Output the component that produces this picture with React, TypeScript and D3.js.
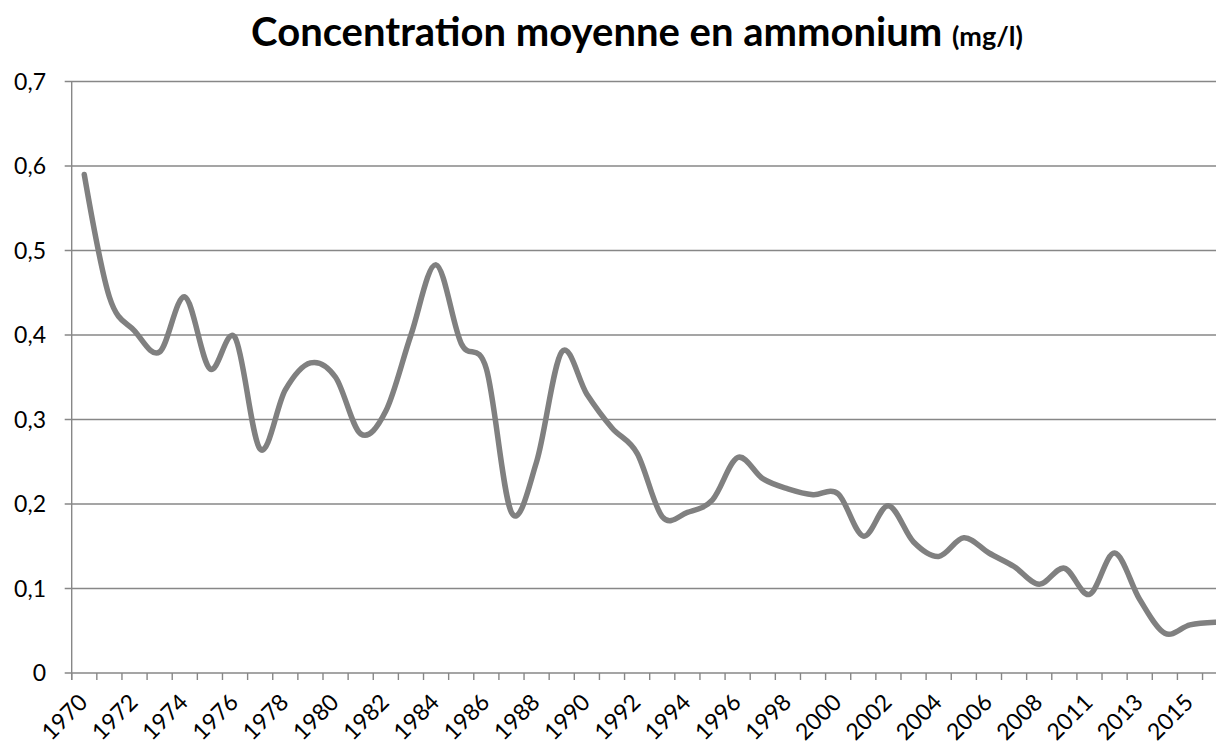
import React, { useEffect, useRef } from "react";
import * as d3 from "d3";

// années (2009 manque dans la série d'origine)
const years: string[] = [
  "1970", "1971", "1972", "1973", "1974", "1975", "1976", "1977", "1978", "1979",
  "1980", "1981", "1982", "1983", "1984", "1985", "1986", "1987", "1988", "1989",
  "1990", "1991", "1992", "1993", "1994", "1995", "1996", "1997", "1998", "1999",
  "2000", "2001", "2002", "2003", "2004", "2005", "2006", "2007", "2008", "2010",
  "2011", "2012", "2013", "2014", "2015", "2016",
];

// concentration moyenne en ammonium (mg/l)
const ammonium: number[] = [
  0.59, 0.445, 0.405, 0.38, 0.445, 0.36, 0.397, 0.265, 0.335, 0.367,
  0.35, 0.283, 0.31, 0.4, 0.483, 0.39, 0.36, 0.19, 0.25, 0.38,
  0.33, 0.29, 0.26, 0.185, 0.19, 0.205, 0.255, 0.23, 0.218, 0.211,
  0.212, 0.162, 0.198, 0.155, 0.138, 0.16, 0.142, 0.126, 0.105, 0.124,
  0.093, 0.142, 0.087, 0.047, 0.057, 0.06,
];

const yTicks: number[] = [0, 0.1, 0.2, 0.3, 0.4, 0.5, 0.6, 0.7];

const W = 1216;
const H = 745;
const FONT = "Lato, 'Open Sans', sans-serif";

export default function App() {
  const ref = useRef<SVGSVGElement>(null);

  useEffect(() => {
    const svg = d3.select(ref.current);
    svg.selectAll("*").remove();

    const left = 71.7;
    const step = 25.13;
    const top = 81.5;
    const bottom = 673;

    const x = d3.scaleBand<string>()
      .domain(years)
      .range([left, left + step * years.length])
      .padding(0);
    const y = d3.scaleLinear().domain([0, 0.7]).range([bottom, top]);

    const gridColor = "#878787";

    // gridlines + y ticks
    const yAxis = svg.append("g");
    yAxis.selectAll("line.grid")
      .data(yTicks)
      .enter()
      .append("line")
      .attr("x1", left - 7)
      .attr("x2", W)
      .attr("y1", (d) => y(d))
      .attr("y2", (d) => y(d))
      .attr("stroke", gridColor)
      .attr("stroke-width", 1.4);

    yAxis.selectAll("text")
      .data(yTicks)
      .enter()
      .append("text")
      .attr("x", 46)
      .attr("y", (d) => y(d))
      .attr("dy", "0.35em")
      .attr("text-anchor", "end")
      .attr("font-family", FONT)
      .attr("font-size", 23)
      .attr("fill", "#000")
      .text((d) => (d === 0 ? "0" : d3.format(".1f")(d).replace(".", ",")));

    // y axis line
    svg.append("line")
      .attr("x1", left).attr("x2", left)
      .attr("y1", top).attr("y2", bottom + 7)
      .attr("stroke", gridColor)
      .attr("stroke-width", 1.4);

    // x axis ticks at category boundaries
    const bounds = d3.range(years.length + 1).map((i) => left + i * step);
    svg.append("g")
      .selectAll("line")
      .data(bounds)
      .enter()
      .append("line")
      .attr("x1", (d) => d).attr("x2", (d) => d)
      .attr("y1", bottom).attr("y2", bottom + 7)
      .attr("stroke", gridColor)
      .attr("stroke-width", 1.4);

    // x labels, one every two categories
    svg.append("g")
      .selectAll("text")
      .data(years.filter((_, i) => i % 2 === 0))
      .enter()
      .append("text")
      .attr("transform", (d) => {
        const cx = (x(d) as number) + x.bandwidth() / 2 - 1;
        return "translate(" + cx + "," + (bottom + 25) + ") rotate(-45)";
      })
      .attr("dy", "0.35em")
      .attr("text-anchor", "end")
      .attr("font-family", FONT)
      .attr("font-size", 23)
      .attr("fill", "#000")
      .text((d) => d);

    // the series
    const line = d3.line<number>()
      .x((_, i) => (x(years[i]) as number) + x.bandwidth() / 2)
      .y((d) => y(d))
      .curve(d3.curveCardinal.tension(0));

    svg.append("path")
      .datum(ammonium)
      .attr("d", line)
      .attr("fill", "none")
      .attr("stroke", "#808080")
      .attr("stroke-width", 5.5)
      .attr("stroke-linejoin", "round")
      .attr("stroke-linecap", "round");

    // title
    const title = svg.append("text")
      .attr("x", 637)
      .attr("y", 46)
      .attr("text-anchor", "middle")
      .attr("font-family", FONT)
      .attr("font-weight", "bold")
      .attr("fill", "#000");
    title.append("tspan")
      .attr("font-size", 40)
      .text("Concentration moyenne en ammonium ");
    title.append("tspan")
      .attr("font-size", 27)
      .text("(mg/l)");
  }, []);

  return (
    <div style={{ position: "absolute", left: 0, top: 0 }}>
      <svg ref={ref} width={W} height={H} style={{ display: "block", background: "#fff" }} />
    </div>
  );
}
